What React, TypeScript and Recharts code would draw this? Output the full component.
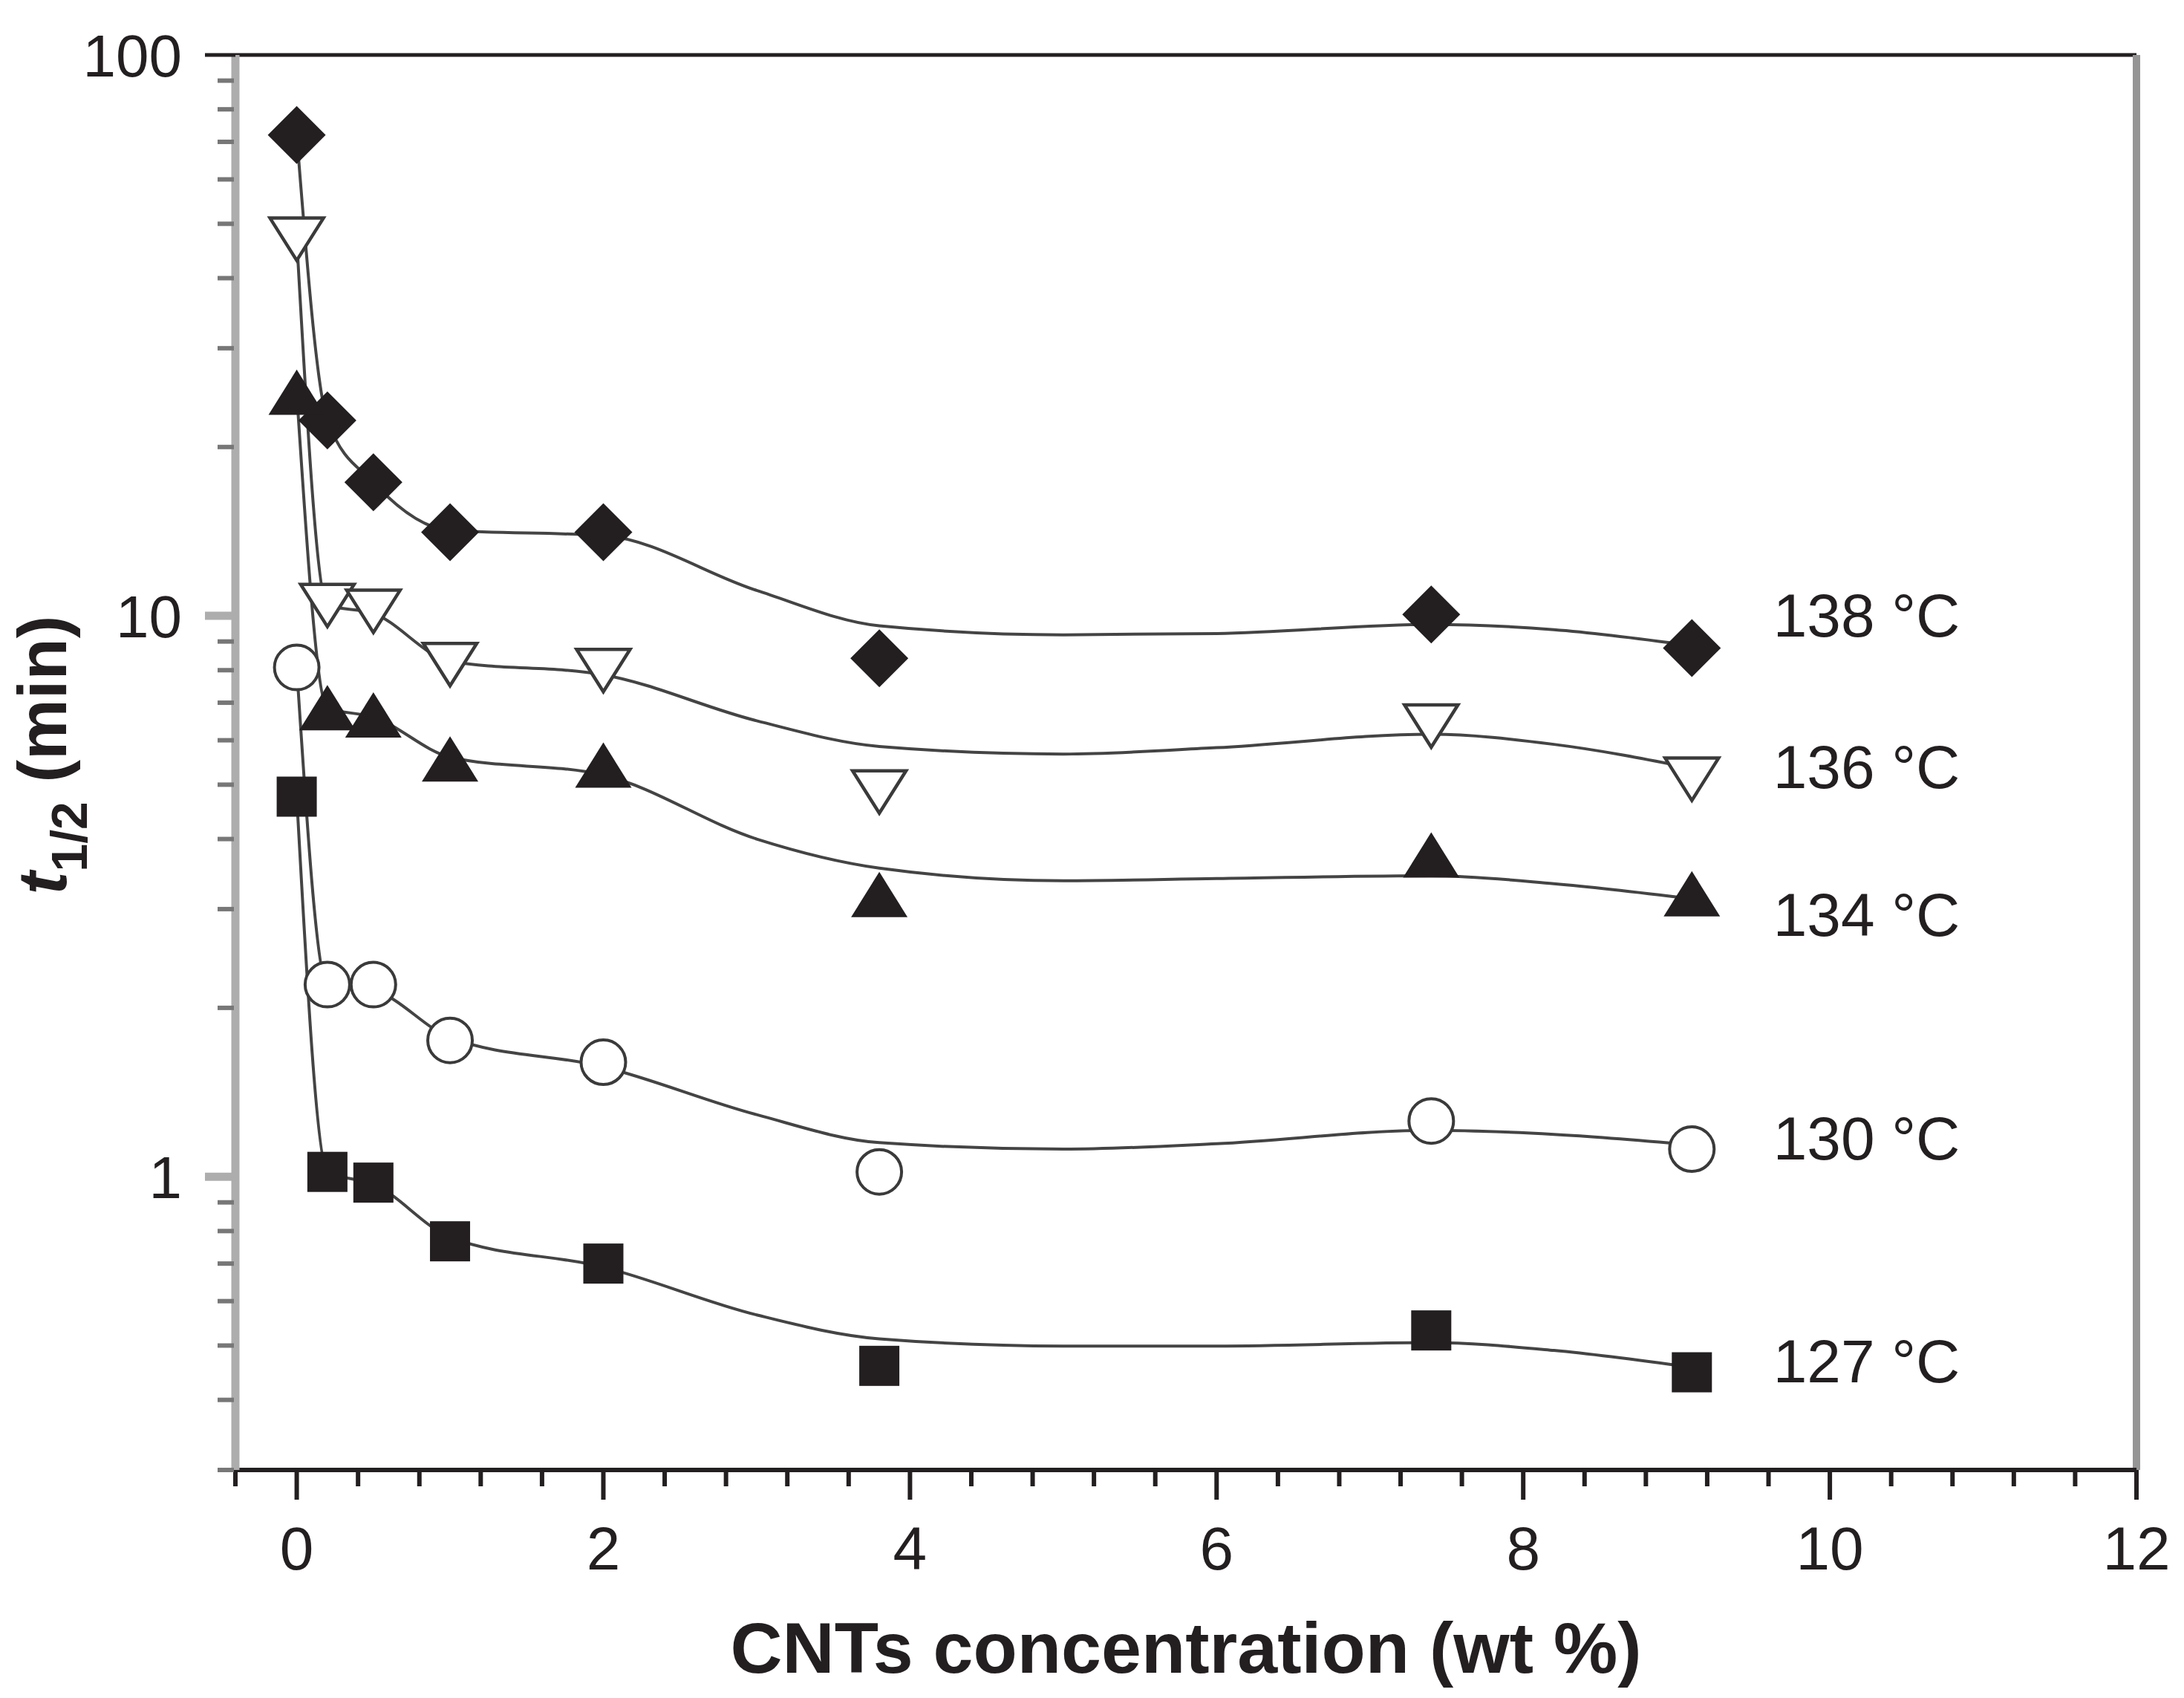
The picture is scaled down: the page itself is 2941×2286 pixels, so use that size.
import React from "react";
import {
  ComposedChart,
  Line,
  Scatter,
  XAxis,
  YAxis,
  ReferenceLine,
} from "recharts";

// CNT concentration (wt %) of the measured samples
const conc = [0, 0.2, 0.5, 1, 2, 3.8, 7.4, 9.1];

// half-time of crystallization t1/2 (min), one array per temperature
const t138 = [72, 22.3, 17.3, 14.1, 14.1, 8.4, 10.06, 8.76];
const t136 = [47, 10.45, 10.2, 8.2, 8.0, 4.86, 6.37, 5.12];
const t134 = [25, 6.85, 6.65, 5.55, 5.41, 3.18, 3.74, 3.19];
const t130 = [8.09, 2.2, 2.2, 1.75, 1.6, 1.02, 1.257, 1.12];
const t127 = [4.76, 1.02, 0.976, 0.767, 0.7, 0.46, 0.532, 0.448];

// smoothed guide curves
const fitConc = [0, 0.2, 0.5, 1, 2, 3, 3.8, 5, 6, 7.4, 8.2, 9.1];
const fit138 = [72, 22.3, 17.3, 14.2, 13.9, 11.1, 9.6, 9.25, 9.3, 9.65, 9.45, 8.85];
const fit136 = [47, 10.45, 10.1, 8.3, 7.85, 6.5, 5.85, 5.67, 5.82, 6.15, 5.9, 5.35];
const fit134 = [25, 6.85, 6.6, 5.6, 5.2, 4.0, 3.55, 3.37, 3.4, 3.44, 3.33, 3.13];
const fit130 = [8.09, 2.2, 2.15, 1.77, 1.57, 1.29, 1.15, 1.12, 1.145, 1.21, 1.19, 1.14];
const fit127 = [4.76, 1.02, 0.97, 0.78, 0.69, 0.567, 0.514, 0.499, 0.499, 0.506, 0.49, 0.457];

const temps = ["138 °C", "136 °C", "134 °C", "130 °C", "127 °C"];
const labelConc = 9.63;
const labelT = [10.04, 5.38, 2.94, 1.172, 0.469];

const xTicks = [
  -0.4, 0, 0.4, 0.8, 1.2, 1.6, 2, 2.4, 2.8, 3.2, 3.6, 4, 4.4, 4.8, 5.2, 5.6, 6,
  6.4, 6.8, 7.2, 7.6, 8, 8.4, 8.8, 9.2, 9.6, 10, 10.4, 10.8, 11.2, 11.6, 12,
];
const xLabels = [0, 2, 4, 6, 8, 10, 12];
const yTicks = [
  0.3, 0.4, 0.5, 0.6, 0.7, 0.8, 0.9, 1, 2, 3, 4, 5, 6, 7, 8, 9, 10, 20, 30, 40,
  50, 60, 70, 80, 90, 100,
];
const yLabels = [1, 10, 100];

const INK = "#231f20";
const FONT = "'Liberation Sans', Arial, Helvetica, sans-serif";

const toPoints = (xs: number[], ys: number[]) =>
  xs.map((x, i) => ({ x, y: ys[i] }));

const series = [
  { pts: t138, fit: fit138, kind: "diamond" },
  { pts: t136, fit: fit136, kind: "triDown" },
  { pts: t134, fit: fit134, kind: "triUp" },
  { pts: t130, fit: fit130, kind: "circle" },
  { pts: t127, fit: fit127, kind: "square" },
];

function Marker({ kind, cx, cy }: { kind: string; cx: number; cy: number }) {
  if (cx == null || cy == null) return null;
  switch (kind) {
    case "diamond":
      return (
        <polygon
          points={`${cx},${cy - 39} ${cx + 39},${cy} ${cx},${cy + 39} ${cx - 39},${cy}`}
          fill={INK}
        />
      );
    case "triDown":
      return (
        <polygon
          points={`${cx - 36},${cy - 28} ${cx + 36},${cy - 28} ${cx},${cy + 29}`}
          fill="#fff"
          stroke="#3a3a3a"
          strokeWidth={4.5}
          strokeLinejoin="miter"
        />
      );
    case "triUp":
      return (
        <polygon
          points={`${cx},${cy - 31} ${cx + 38},${cy + 30} ${cx - 38},${cy + 30}`}
          fill={INK}
        />
      );
    case "circle":
      return (
        <circle cx={cx} cy={cy} r={30} fill="#fff" stroke="#3a3a3a" strokeWidth={4} />
      );
    default:
      return <rect x={cx - 27} y={cy - 27} width={54} height={54} fill={INK} />;
  }
}

function XTick(props: any) {
  const { x, y, payload } = props;
  const v = payload.value;
  const major = xLabels.some((m) => Math.abs(m - v) < 1e-6);
  return (
    <g>
      <line x1={x} x2={x} y1={y} y2={y + (major ? 40 : 22)} stroke={INK} strokeWidth={6} />
      {major && (
        <text x={x} y={y + 134} textAnchor="middle" fontSize={82} fill={INK} fontFamily={FONT}>
          {v}
        </text>
      )}
    </g>
  );
}

function YTick(props: any) {
  const { x, y, payload } = props;
  const v = payload.value;
  const major = yLabels.some((m) => Math.abs(m - v) < 1e-6);
  return (
    <g>
      {major ? (
        <line
          x1={x - 41}
          x2={x}
          y1={y}
          y2={y}
          stroke={v === 100 ? INK : "#adadad"}
          strokeWidth={v === 100 ? 5 : 11}
        />
      ) : (
        <line x1={x - 24} x2={x - 2} y1={y} y2={y} stroke="#777" strokeWidth={6} />
      )}
      {major && (
        <text x={x - 72} y={y + 29} textAnchor="end" fontSize={80} fill={INK} fontFamily={FONT}>
          {v}
        </text>
      )}
    </g>
  );
}

function XTitle(props: any) {
  const vb = props.viewBox || { x: 309, y: 1971, width: 2560, height: 299 };
  return (
    <text
      x={vb.x + vb.width / 2}
      y={vb.y + 273}
      textAnchor="middle"
      fontSize={97}
      fontWeight="bold"
      fill={INK}
      fontFamily={FONT}
    >
      CNTs concentration (wt %)
    </text>
  );
}

function YTitle(props: any) {
  const vb = props.viewBox || { x: 0, y: 66, width: 309, height: 1905 };
  const cx = vb.x + 81;
  const cy = vb.y + vb.height / 2 - 10;
  return (
    <text
      x={cx}
      y={cy}
      transform={`rotate(-90 ${cx} ${cy})`}
      textAnchor="middle"
      fontSize={92}
      fontWeight="bold"
      fill={INK}
      fontFamily={FONT}
    >
      <tspan fontStyle="italic">t</tspan>
      <tspan fontSize={68} dy={28}>
        1/2
      </tspan>
      <tspan dy={-28}> (min)</tspan>
    </text>
  );
}

export default function App() {
  const labels = temps.map((text, i) => ({ x: labelConc, y: labelT[i], text }));
  return (
    <div style={{ width: 2920, height: 2270, fontFamily: FONT, background: "#fff" }}>
      <ComposedChart
        width={2920}
        height={2270}
        margin={{ top: 66, right: 51, left: 0, bottom: 0 }}
      >
        <XAxis
          type="number"
          dataKey="x"
          domain={[-0.4, 12]}
          ticks={xTicks}
          interval={0}
          tickSize={0}
          tickMargin={0}
          tick={(p: any) => <XTick {...p} />}
          axisLine={{ stroke: INK, strokeWidth: 6 }}
          height={299}
          allowDataOverflow
          label={<XTitle />}
        />
        <YAxis
          type="number"
          dataKey="y"
          scale="log"
          domain={[0.3, 100]}
          ticks={yTicks}
          interval={0}
          tickSize={0}
          tickMargin={0}
          tick={(p: any) => <YTick {...p} />}
          axisLine={{ stroke: "#adadad", strokeWidth: 11 }}
          width={309}
          allowDataOverflow
          label={<YTitle />}
        />
        <ReferenceLine y={100} stroke={INK} strokeWidth={5} />
        <ReferenceLine x={12} stroke="#959595" strokeWidth={10} />
        {series.map((s, i) => (
          <Line
            key={`fit-${i}`}
            data={toPoints(fitConc, s.fit)}
            dataKey="y"
            type="monotone"
            stroke="#444"
            strokeWidth={4}
            dot={false}
            activeDot={false}
            isAnimationActive={false}
          />
        ))}
        {series.map((s, i) => (
          <Scatter
            key={`pts-${i}`}
            data={toPoints(conc, s.pts)}
            dataKey="y"
            isAnimationActive={false}
            shape={(p: any) => <Marker kind={s.kind} cx={p.cx} cy={p.cy} />}
          />
        ))}
        <Scatter
          data={labels}
          dataKey="y"
          isAnimationActive={false}
          shape={(p: any) => (
            <text
              x={p.cx}
              y={p.cy + 29}
              fontSize={82}
              fill={INK}
              fontFamily={FONT}
            >
              {p.payload.text}
            </text>
          )}
        />
      </ComposedChart>
    </div>
  );
}
